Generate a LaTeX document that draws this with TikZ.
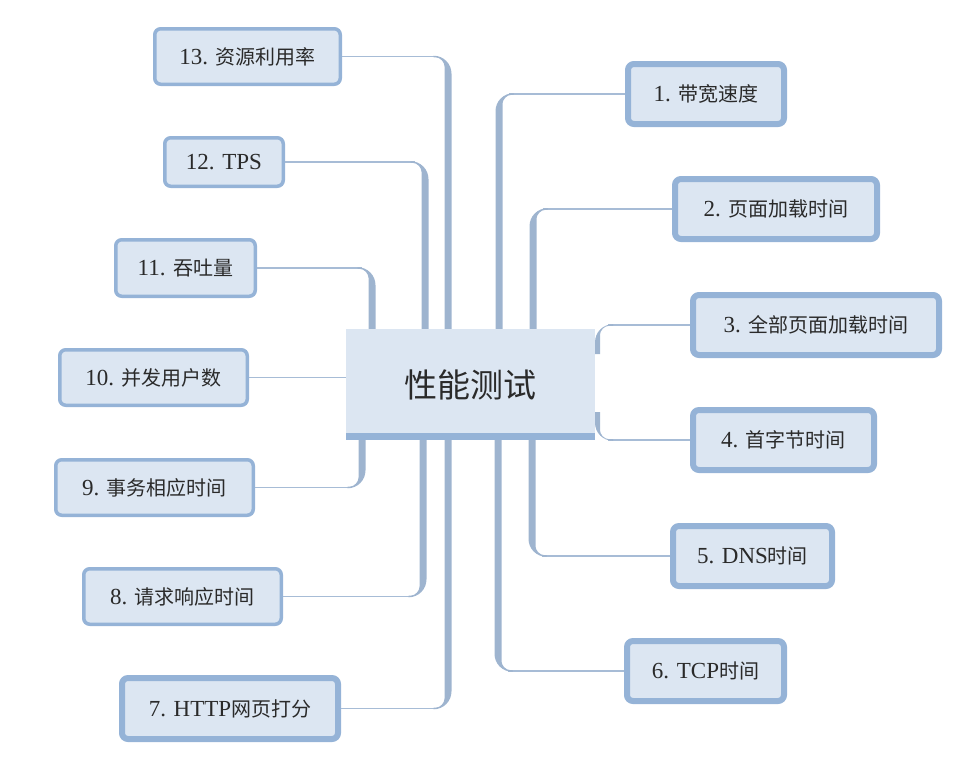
\documentclass[tikz,border=0pt]{standalone}
\usepackage{fontspec}
\setmainfont{Liberation Serif}[Scale=1.15]
\newfontfamily\cjk{Noto Sans CJK SC}
\usetikzlibrary{calc}
\definecolor{boxfill}{HTML}{DCE6F2}
\definecolor{boxline}{HTML}{95B3D7}
\definecolor{conncol}{HTML}{9EB4CF}
\definecolor{twigcol}{HTML}{A7BCD6}
\definecolor{txt}{HTML}{2A2A2A}
\tikzset{
  leaf/.style={draw=boxline, fill=boxfill, rounded corners=6pt, inner sep=0pt, text=txt, font=\fontsize{20}{23}\selectfont},
  leafthin/.style={leaf, line width=3.5pt},
  leafthick/.style={leaf, line width=6pt},
  hub/.style={fill=boxfill, inner sep=0pt, text=txt, font=\cjk\fontsize{33}{38}\selectfont},
  trunkfill/.style={fill=conncol},
  twig/.style={draw=twigcol, line width=1.6pt},
}
% #1 trunk start, #2 leaf anchor, #3 horizontal direction, #4 vertical direction, #5 half width of trunk
% outer radius 18pt, inner radius 9pt, thin half width 0.8pt
\newcommand\bendconn[5]{%
  \draw[twig] let \p1=(#1), \p2=(#2) in (#2) -- ({\x1+(#3)*10pt},\y2);
  \fill[trunkfill] let \p1=(#1), \p2=(#2) in
    ({\x1-(#3)*#5},\y1) -- ({\x1-(#3)*#5},{\y2+(#4)*0.8pt-(#4)*18pt})
    .. controls ({\x1-(#3)*#5},{\y2+(#4)*0.8pt-(#4)*8pt}) and ({\x1-(#3)*#5+(#3)*8pt},{\y2+(#4)*0.8pt})
    .. ({\x1-(#3)*#5+(#3)*18pt},{\y2+(#4)*0.8pt})
    -- ({\x1-(#3)*#5+(#3)*18pt},{\y2-(#4)*0.8pt})
    -- ({\x1+(#3)*#5+(#3)*9pt},{\y2-(#4)*0.8pt})
    .. controls ({\x1+(#3)*#5+(#3)*4pt},{\y2-(#4)*0.8pt}) and ({\x1+(#3)*#5},{\y2-(#4)*0.8pt-(#4)*5pt})
    .. ({\x1+(#3)*#5},{\y2-(#4)*0.8pt-(#4)*9pt})
    -- ({\x1+(#3)*#5},\y1) -- cycle;
}
\begin{document}
\begin{tikzpicture}[x=1pt,y=-1pt]
\useasboundingbox (0,0) rectangle (975,761);
% hub
\node[hub, minimum width=249pt, minimum height=111pt] (c) at (470.5,384.5) {性能测试};
\fill[boxline] ($(c.south west)+(0,-7)$) rectangle (c.south east);
% left leaves
\node[leafthin, minimum width=185.5pt, minimum height=55.5pt] (n13) at (247.5,56.5) {13. {\cjk 资源利用率}};
\node[leafthin, minimum width=118.5pt, minimum height=48.5pt] (n12) at (224,162) {12. TPS};
\node[leafthin, minimum width=139.5pt, minimum height=56.5pt] (n11) at (185.5,268) {11. {\cjk 吞吐量}};
\node[leafthin, minimum width=187.5pt, minimum height=55.5pt] (n10) at (153.5,377.5) {10. {\cjk 并发用户数}};
\node[leafthin, minimum width=197.5pt, minimum height=55.5pt] (n9) at (154.5,487.5) {9. {\cjk 事务相应时间}};
\node[leafthin, minimum width=197.5pt, minimum height=55.5pt] (n8) at (182.5,596.5) {8. {\cjk 请求响应时间}};
\node[leafthick, minimum width=216pt, minimum height=61pt] (n7) at (230,708.5) {7. HTTP{\cjk 网页打分}};
% right leaves
\node[leafthick, minimum width=156pt, minimum height=60pt] (n1) at (706,94) {1. {\cjk 带宽速度}};
\node[leafthick, minimum width=202pt, minimum height=60pt] (n2) at (776,209) {2. {\cjk 页面加载时间}};
\node[leafthick, minimum width=246pt, minimum height=60pt] (n3) at (816,325) {3. {\cjk 全部页面加载时间}};
\node[leafthick, minimum width=181pt, minimum height=60pt] (n4) at (783.5,440) {4. {\cjk 首字节时间}};
\node[leafthick, minimum width=159pt, minimum height=60pt] (n5) at (752.5,556) {5. DNS{\cjk 时间}};
\node[leafthick, minimum width=157pt, minimum height=60pt] (n6) at (705.5,671) {6. TCP{\cjk 时间}};
% trunk positions
\coordinate (v13) at (448,0);
\coordinate (v12) at (425,0);
\coordinate (v11) at (372,0);
\coordinate (v9) at (362,0);
\coordinate (v8) at (423,0);
\coordinate (v7) at (448,0);
\coordinate (v1) at (499,0);
\coordinate (v2) at (533,0);
\coordinate (v5) at (532,0);
\coordinate (v6) at (498,0);
\coordinate (v3) at (597.5,354);
\coordinate (v4) at (597.5,412);
% left connectors
\bendconn{v13 |- c.north}{n13.east}{-1}{1}{3.5pt}
\bendconn{v12 |- c.north}{n12.east}{-1}{1}{3.5pt}
\bendconn{v11 |- c.north}{n11.east}{-1}{1}{3.5pt}
\bendconn{v9 |- c.south}{n9.east}{-1}{-1}{3.5pt}
\bendconn{v8 |- c.south}{n8.east}{-1}{-1}{3.5pt}
\bendconn{v7 |- c.south}{n7.east}{-1}{-1}{3.5pt}
\draw[twig] (n10.east) -- (n10.east -| c.west);
% right connectors
\bendconn{v1 |- c.north}{n1.west}{1}{1}{3.5pt}
\bendconn{v2 |- c.north}{n2.west}{1}{1}{3.5pt}
\bendconn{v3}{n3.west}{1}{1}{2.5pt}
\bendconn{v4}{n4.west}{1}{-1}{2.5pt}
\bendconn{v5 |- c.south}{n5.west}{1}{-1}{3.5pt}
\bendconn{v6 |- c.south}{n6.west}{1}{-1}{3.5pt}
\end{tikzpicture}
\end{document}
